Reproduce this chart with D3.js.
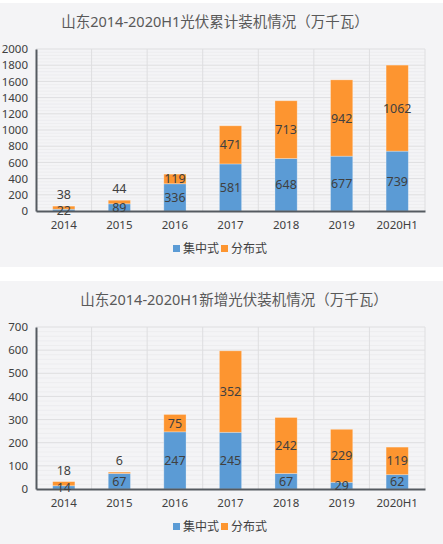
<!DOCTYPE html>
<html>
<head>
<meta charset="utf-8">
<script src="https://cdn.jsdelivr.net/npm/d3@7"></script>
<style>
  body { margin: 0; background: #fff; }
  text { font-family: "Noto Sans", "Noto Sans CJK SC", sans-serif; }
</style>
</head>
<body>
<script>
// categories
const years = ["2014", "2015", "2016", "2017", "2018", "2019", "2020H1"]

// cumulative installed capacity (万千瓦)
const cumCentral = [22, 89, 336, 581, 648, 677, 739]
const cumDistributed = [38, 44, 119, 471, 713, 942, 1062]
const cumTicks = [0, 200, 400, 600, 800, 1000, 1200, 1400, 1600, 1800, 2000]

// newly added capacity (万千瓦)
const newCentral = [14, 67, 247, 245, 67, 29, 62]
const newDistributed = [18, 6, 75, 352, 242, 229, 119]
const newTicks = [0, 100, 200, 300, 400, 500, 600, 700]

const seriesNames = ["集中式", "分布式"]
const colors = ["#5b9bd5", "#fd9530"]

const svg = d3.select("body").append("svg")
    .attr("width", 443)
    .attr("height", 544)

function drawChart(top, h, title, titleX, central, distributed, ticks) {
    // panel background
    svg.append("rect")
        .attr("x", 0).attr("y", top)
        .attr("width", 443).attr("height", h)
        .attr("fill", "#f4f4f6")

    const g = svg.append("g").attr("transform", "translate(0," + top + ")")

    g.append("text")
        .attr("x", titleX).attr("y", 24)
        .attr("text-anchor", "middle")
        .attr("font-size", 14.5)
        .attr("fill", "#595959")
        .text(title)

    const y0 = 208, y1 = 46
    const max = ticks[ticks.length - 1]
    const x = d3.scaleBand().domain(years).range([36, 425])
        .paddingInner(0.6).paddingOuter(0.3)
    const y = d3.scaleLinear().domain([0, max]).range([y0, y1])
    const step = x.step()

    // minor gridlines
    const minorStep = (ticks[1] - ticks[0]) / 5
    const minor = d3.range(0, max, minorStep).filter(v => ticks.indexOf(v) < 0)
    g.selectAll(".minor")
        .data(minor)
        .enter()
        .append("line")
        .attr("x1", 36).attr("x2", 425)
        .attr("y1", d => y(d)).attr("y2", d => y(d))
        .attr("stroke", "#ebebee")
        .attr("stroke-width", 0.8)

    // major gridlines
    g.selectAll(".major")
        .data(ticks.slice(1))
        .enter()
        .append("line")
        .attr("x1", 36).attr("x2", 425)
        .attr("y1", d => y(d)).attr("y2", d => y(d))
        .attr("stroke", "#dedee0")
        .attr("stroke-width", 1)

    // vertical gridlines at category boundaries
    g.selectAll(".vgrid")
        .data(years.slice(1).concat(["end"]))
        .enter()
        .append("line")
        .attr("x1", (d, i) => 36 + step * (i + 1))
        .attr("x2", (d, i) => 36 + step * (i + 1))
        .attr("y1", y(max)).attr("y2", y0)
        .attr("stroke", "#dedee0")
        .attr("stroke-width", 1)

    // y axis
    const yAxis = g.append("g")
        .attr("transform", "translate(36,0)")
        .call(d3.axisLeft(y).tickValues(ticks).tickFormat(d3.format("d")).tickSize(0).tickPadding(8))
    yAxis.select(".domain").attr("stroke", "#555a60").attr("stroke-width", 2)
    yAxis.selectAll("text")
        .attr("font-size", 11.5)
        .attr("fill", "#404040")
        .style("font-family", '"Noto Sans", sans-serif')

    // stacked bars
    const stackData = years.map((d, i) => ({ year: d, a: central[i], b: distributed[i] }))
    const stacked = d3.stack().keys(["a", "b"])(stackData)

    stacked.forEach((layer, li) => {
        g.selectAll(".bar" + li)
            .data(layer)
            .enter()
            .append("rect")
            .attr("x", d => x(d.data.year))
            .attr("width", x.bandwidth())
            .attr("y", d => y(d[1]))
            .attr("height", d => y(d[0]) - y(d[1]))
            .attr("fill", colors[li])
            .attr("stroke", "#ffffff")
            .attr("stroke-opacity", 0.35)
            .attr("stroke-width", 0.8)
    })

    // x axis
    const xAxis = g.append("g")
        .attr("transform", "translate(0," + y0 + ")")
        .call(d3.axisBottom(x).tickSize(0).tickPadding(10))
    xAxis.select(".domain").attr("stroke", "#555a60").attr("stroke-width", 2)
    xAxis.selectAll("text")
        .attr("font-size", 11.5)
        .attr("fill", "#404040")
        .style("font-family", '"Noto Sans", sans-serif')

    // value labels, small orange segments get their label above the bar
    stacked.forEach((layer, li) => {
        g.selectAll(".label" + li)
            .data(layer)
            .enter()
            .append("text")
            .attr("x", d => x(d.data.year) + x.bandwidth() / 2)
            .attr("y", d => {
                const hgt = y(d[0]) - y(d[1])
                if (li == 1 && hgt < 8) {
                    return y(d[1]) - 11.5
                }
                return (y(d[0]) + y(d[1])) / 2
            })
            .attr("dy", "0.36em")
            .attr("text-anchor", "middle")
            .attr("font-size", 12.5)
            .attr("fill", "#404040")
            .text(d => d[1] - d[0])
    })

    // legend
    const legend = g.append("g").attr("transform", "translate(0,246)")
    const lx = [173, 221]
    seriesNames.forEach((name, i) => {
        legend.append("rect")
            .attr("x", lx[i]).attr("y", -4)
            .attr("width", 7).attr("height", 7)
            .attr("fill", colors[i])
        legend.append("text")
            .attr("x", lx[i] + 10).attr("y", 0)
            .attr("dy", "0.36em")
            .attr("font-size", 12)
            .attr("fill", "#404040")
            .style("font-family", '"Noto Sans CJK SC", sans-serif')
            .text(name)
    })
}

drawChart(3, 264, "山东2014-2020H1光伏累计装机情况（万千瓦）", 215, cumCentral, cumDistributed, cumTicks)
drawChart(281, 263, "山东2014-2020H1新增光伏装机情况（万千瓦）", 234, newCentral, newDistributed, newTicks)
</script>
</body>
</html>
